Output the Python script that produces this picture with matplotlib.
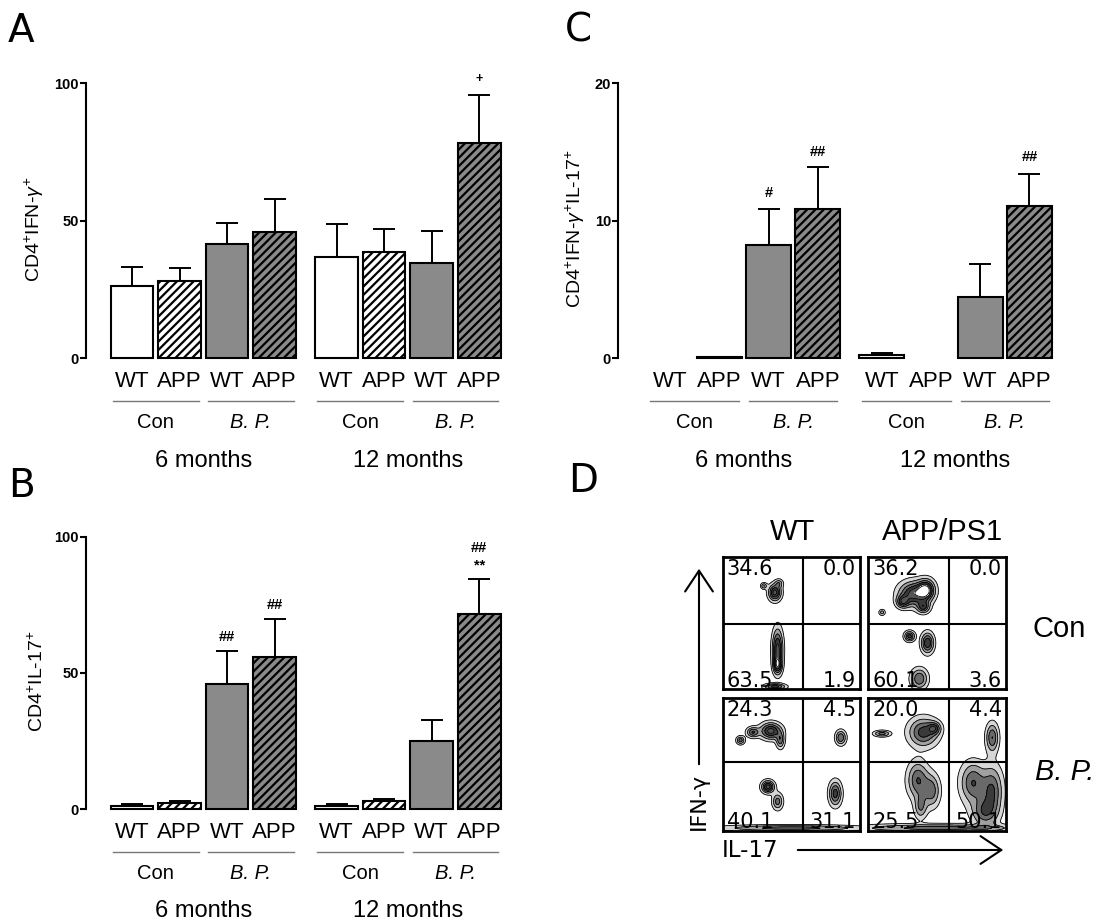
import numpy as np
import matplotlib
matplotlib.use('Agg')
import matplotlib.pyplot as plt
from matplotlib.patches import FancyArrowPatch

plt.rcParams['font.family'] = ['Liberation Sans', 'DejaVu Sans']
plt.rcParams['mathtext.fontset'] = 'custom'
plt.rcParams['mathtext.rm'] = 'Liberation Sans'
plt.rcParams['mathtext.it'] = 'Liberation Sans:italic'
plt.rcParams['mathtext.bf'] = 'Liberation Sans:bold'
plt.rcParams['hatch.linewidth'] = 1.6

# ---------------- data ----------------
genotypes = ['WT', 'APP', 'WT', 'APP', 'WT', 'APP', 'WT', 'APP']
treatments = ['Con', 'B. P.', 'Con', 'B. P.']
ages = ['6 months', '12 months']
positions = [0, 1, 2, 3, 4.3, 5.3, 6.3, 7.3]

ifng_mean = [26.1, 28.2, 41.5, 45.7, 36.6, 38.7, 34.5, 78.2]
ifng_err = [6.9, 4.5, 7.5, 12.0, 12.1, 8.3, 11.8, 17.7]
ifng_marks = {7: [('+', 101.6)]}

il17_mean = [1.3, 2.2, 45.8, 56.0, 1.2, 3.1, 25.2, 71.5]
il17_err = [0.7, 0.9, 12.1, 13.7, 0.6, 0.8, 7.4, 12.9]
il17_marks = {2: [('##', 63.3)], 3: [('##', 74.9)], 7: [('##', 95.7), ('**', 89.6)]}

dp_mean = [0.0, 0.05, 8.24, 10.86, 0.25, 0.0, 4.44, 11.08]
dp_err = [0.0, 0.02, 2.62, 3.04, 0.1, 0.0, 2.42, 2.32]
dp_marks = {2: [('#', 12.0)], 3: [('##', 15.0)], 7: [('##', 14.6)]}

fills = ['white', 'white', '#8a8a8a', '#8a8a8a'] * 2
hatches = ['', '////', '', '////'] * 2

# flow plots: quadrant percentages [UL, UR, LL, LR]
flow_cols = ['WT', 'APP/PS1']
flow_rows = ['Con', 'B. P.']
flow_pct = {
    (0, 0): ['34.6', '0.0', '63.5', '1.9'],
    (0, 1): ['36.2', '0.0', '60.1', '3.6'],
    (1, 0): ['24.3', '4.5', '40.1', '31.1'],
    (1, 1): ['20.0', '4.4', '25.5', '50.1'],
}
# population clusters: (x, y, sx, sy, weight) in box units
flow_clusters = {
    (0, 0): [(0.38, 0.73, 0.03, 0.04, 1.0), (0.30, 0.78, 0.015, 0.015, 0.5),
             (0.41, 0.80, 0.02, 0.02, 0.4), (0.40, 0.30, 0.025, 0.10, 1.0),
             (0.40, 0.18, 0.02, 0.04, 0.7), (0.38, 0.02, 0.05, 0.015, 0.8)],
    (0, 1): [(0.33, 0.72, 0.07, 0.06, 1.0), (0.42, 0.75, 0.04, 0.05, 1.0),
             (0.25, 0.66, 0.03, 0.03, 0.7), (0.40, 0.62, 0.03, 0.03, 0.7),
             (0.30, 0.40, 0.025, 0.025, 0.8), (0.43, 0.35, 0.03, 0.05, 0.9),
             (0.37, 0.08, 0.04, 0.05, 0.7), (0.10, 0.58, 0.015, 0.015, 0.4)],
    (1, 0): [(0.35, 0.75, 0.05, 0.04, 1.0), (0.22, 0.74, 0.03, 0.025, 0.7),
             (0.13, 0.68, 0.02, 0.02, 0.6), (0.42, 0.68, 0.02, 0.04, 0.6),
             (0.86, 0.70, 0.025, 0.035, 0.7), (0.33, 0.33, 0.03, 0.03, 1.0),
             (0.40, 0.22, 0.025, 0.04, 0.6), (0.82, 0.28, 0.03, 0.06, 0.8),
             (0.50, 0.02, 0.35, 0.015, 0.6)],
    (1, 1): [(0.40, 0.74, 0.07, 0.07, 0.8), (0.48, 0.77, 0.03, 0.03, 0.6),
             (0.10, 0.73, 0.04, 0.015, 0.6), (0.90, 0.70, 0.03, 0.07, 0.7),
             (0.36, 0.38, 0.05, 0.09, 0.7), (0.46, 0.30, 0.04, 0.08, 0.6),
             (0.38, 0.18, 0.03, 0.06, 0.5), (0.76, 0.36, 0.06, 0.10, 0.7),
             (0.90, 0.30, 0.05, 0.12, 0.7), (0.84, 0.14, 0.06, 0.07, 0.6),
             (0.50, 0.02, 0.40, 0.02, 0.6)],
}

W, H = 1101, 923
fig = plt.figure(figsize=(W / 100, H / 100), dpi=100)
fig.patch.set_facecolor('white')


def px_axes(left, top, right, bottom):
    return fig.add_axes([left / W, 1 - bottom / H, (right - left) / W, (bottom - top) / H])


def bar_panel(ax, means, errs, marks, ymax, yticks, ylabel, xlim, width, label_x):
    ax.set_xlim(*xlim)
    ax.set_ylim(0, ymax)
    for i, (p, m, e) in enumerate(zip(positions, means, errs)):
        if m <= 0:
            continue
        ax.bar(p, m, width=width, color=fills[i], edgecolor='black', linewidth=1.5,
               hatch=hatches[i], clip_on=False, zorder=2)
        if e > 0:
            ax.errorbar(p, m, yerr=[[0], [e]], fmt='none', ecolor='black', elinewidth=1.4,
                        capsize=8, capthick=1.4, clip_on=False, zorder=1)
    for i, lst in marks.items():
        for s, y in lst:
            ax.text(positions[i], y, s, ha='center', va='center',
                    fontsize=9 if s == '+' else 10.5, fontweight='bold', clip_on=False)
    for sp in ['top', 'right', 'bottom']:
        ax.spines[sp].set_visible(False)
    ax.spines['left'].set_linewidth(1.5)
    ax.set_xticks([])
    ax.set_yticks(yticks)
    ax.tick_params(axis='y', length=4, width=1.5, pad=1, labelsize=10.5)
    for t in ax.get_yticklabels():
        t.set_fontweight('bold')
    ax.set_ylabel(ylabel, fontsize=14)
    ax.yaxis.set_label_coords(label_x, 0.47)
    tr = ax.get_xaxis_transform()
    for i, g in enumerate(genotypes):
        ax.text(positions[i], -0.105, g, transform=tr, ha='center', va='baseline',
                fontsize=16)
    for k in range(4):
        c = (positions[2 * k] + positions[2 * k + 1]) / 2
        ax.plot([c - 0.9, c + 0.9], [-0.157, -0.157], transform=tr, color='#777777',
                lw=1.0, clip_on=False)
        ax.text(c, -0.254, treatments[k], transform=tr, ha='center', va='baseline',
                fontsize=14.5, style='italic' if k % 2 else 'normal')
    for k in range(2):
        c = (positions[4 * k + 1] + positions[4 * k + 2]) / 2
        ax.text(c, -0.396, ages[k], transform=tr, ha='center', va='baseline', fontsize=17)


axA = px_axes(86, 83.3, 503, 358)
bar_panel(axA, ifng_mean, ifng_err, ifng_marks, 100, [0, 50, 100],
          r'CD4$^{+}$IFN-$\gamma^{+}$', (-0.966, 7.8), 0.9, -0.095)

axB = px_axes(86, 536.7, 503, 809.3)
bar_panel(axB, il17_mean, il17_err, il17_marks, 100, [0, 50, 100],
          r'CD4$^{+}$IL-17$^{+}$', (-0.966, 7.8), 0.9, -0.095)

axC = px_axes(618, 83.3, 1054, 358)
bar_panel(axC, dp_mean, dp_err, dp_marks, 20, [0, 10, 20],
          r'CD4$^{+}$IFN-$\gamma^{+}$IL-17$^{+}$', (-1.06, 7.8), 0.91, -0.07)

# panel letters
for s, x, y in [('A', 8, 42), ('B', 8, 497), ('C', 565, 42), ('D', 568, 492)]:
    fig.text(x / W, 1 - y / H, s, fontsize=28, family='DejaVu Sans', ha='left', va='baseline')

# ---------------- panel D ----------------
box_px = {(0, 0): (722.7, 556.7, 860, 689.3), (0, 1): (868.3, 556.7, 1006, 689.3),
          (1, 0): (722.7, 697.7, 860, 830.7), (1, 1): (868.3, 697.7, 1006, 830.7)}
quad_x = 0.587
quad_y = [0.49, 0.52]
gx = np.linspace(0, 1, 160)
GX, GY = np.meshgrid(gx, gx)
for key, (l, t, r, b) in box_px.items():
    ax = px_axes(l, t, r, b)
    ax.set_xlim(0, 1)
    ax.set_ylim(0, 1)
    Z = np.zeros_like(GX)
    for (x0, y0, sx, sy, w) in flow_clusters[key]:
        Z += w * np.exp(-((GX - x0) ** 2 / (2 * sx ** 2) + (GY - y0) ** 2 / (2 * sy ** 2)))
    lv = [0.12, 0.3, 0.5, 0.7, 0.9, 1.1, 9]
    ax.contourf(GX, GY, Z, levels=lv,
                colors=['#d6d6d6', '#a0a0a0', '#6a6a6a', '#3a3a3a', '#555555', '#ffffff'],
                zorder=1)
    ax.contour(GX, GY, Z, levels=lv[:-1], colors='black', linewidths=0.6, zorder=2)
    ax.axvline(quad_x, color='black', lw=1.5, zorder=3)
    ax.axhline(quad_y[key[0]], color='black', lw=1.5, zorder=3)
    for sp in ax.spines.values():
        sp.set_linewidth(2)
    ax.set_xticks([])
    ax.set_yticks([])
    p = flow_pct[key]
    kw = dict(fontsize=15, family='DejaVu Sans', zorder=4)
    ax.text(0.03, 0.985, p[0], ha='left', va='top', **kw)
    ax.text(0.97, 0.985, p[1], ha='right', va='top', **kw)
    ax.text(0.03, 0.02, p[2], ha='left', va='baseline', **kw)
    ax.text(0.97, 0.02, p[3], ha='right', va='baseline', **kw)

fig.text(793 / W, 1 - 540 / H, flow_cols[0], fontsize=21, ha='center', va='baseline')
fig.text(943 / W, 1 - 540 / H, flow_cols[1], fontsize=21, ha='center', va='baseline')
fig.text(1033 / W, 1 - 637 / H, flow_rows[0], fontsize=21, ha='left', va='baseline')
fig.text(1035 / W, 1 - 780 / H, flow_rows[1], fontsize=21, ha='left', va='baseline',
         style='italic')

fig.text(699 / W, 1 - 801 / H, 'IFN-γ', fontsize=16, family='DejaVu Sans', rotation=90,
         ha='center', va='center')
fig.text(722 / W, 1 - 857 / H, 'IL-17', fontsize=16.5, family='DejaVu Sans',
         ha='left', va='baseline')
for (x0, y0, x1, y1) in [(699, 767, 699, 566), (795, 850, 1006, 850)]:
    fig.add_artist(FancyArrowPatch((x0 / W, 1 - y0 / H), (x1 / W, 1 - y1 / H),
                                   transform=fig.transFigure,
                                   arrowstyle='->,head_length=0.6,head_width=0.4',
                                   mutation_scale=25, lw=1.5, color='black'))

fig.savefig('out.png', dpi=100, facecolor='white')
